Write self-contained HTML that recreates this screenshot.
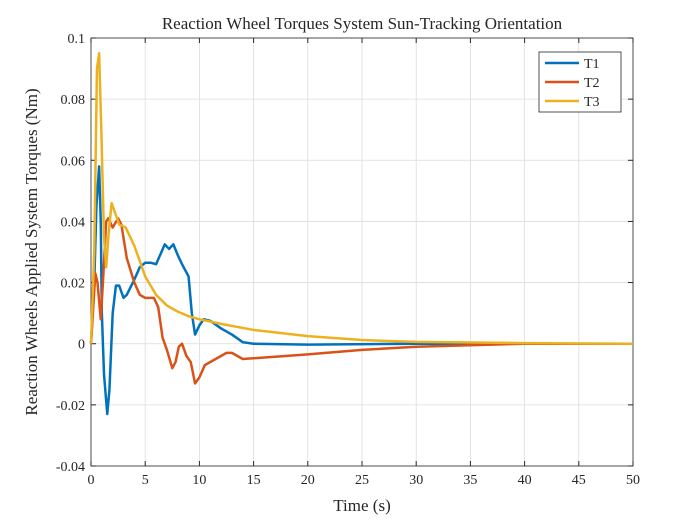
<!DOCTYPE html>
<html><head><meta charset="utf-8"><style>
body{margin:0;background:#fff}
text{font-family:"Liberation Serif","DejaVu Serif",serif;fill:#262626}
</style></head><body>
<svg id="chart" width="700" height="525">
<rect width="700" height="525" fill="#fff"/>
<text x="362" y="29" text-anchor="middle" font-size="17">Reaction Wheel Torques System Sun-Tracking Orientation</text>
<g id="grid"></g><g id="axes"></g><g id="series"></g>
<text x="362" y="511" text-anchor="middle" font-size="17">Time (s)</text>
<text transform="translate(37,252) rotate(-90)" text-anchor="middle" font-size="17">Reaction Wheels Applied System Torques (Nm)</text>
<g>
<rect x="539" y="52" width="82" height="60" fill="#fff" stroke="#262626" stroke-width="0.8"/>
<line x1="545" y1="63" x2="579" y2="63" stroke="#0072BD" stroke-width="2.5"/><text x="584" y="68" font-size="14">T1</text>
<line x1="545" y1="82" x2="579" y2="82" stroke="#D95319" stroke-width="2.5"/><text x="584" y="87" font-size="14">T2</text>
<line x1="545" y1="101" x2="579" y2="101" stroke="#EDB120" stroke-width="2.5"/><text x="584" y="106" font-size="14">T3</text>
</g>
</svg>
<script>
const xTicks=[0,5,10,15,20,25,30,35,40,45,50];
const yTicks=[-0.04,-0.02,0,0.02,0.04,0.06,0.08,0.1];
const yTickLabels=["-0.04","-0.02","0","0.02","0.04","0.06","0.08","0.1"];
const t1Time=[0,0.3,0.5,0.75,0.9,1.0,1.2,1.5,1.7,2.0,2.3,2.6,3.0,3.3,4,4.5,5,5.5,6,6.5,6.8,7.2,7.6,8,8.4,9,9.3,9.6,10,10.4,11,12,13,14,15,20,30,50];
const t1Vals=[0,0.02,0.045,0.058,0.04,0.01,-0.01,-0.023,-0.015,0.01,0.019,0.019,0.015,0.016,0.021,0.025,0.0265,0.0265,0.026,0.03,0.0325,0.031,0.0325,0.029,0.026,0.022,0.01,0.003,0.006,0.008,0.0075,0.005,0.003,0.0005,0,-0.0003,0,0];
const t2Time=[0,0.4,0.6,0.9,1.1,1.4,1.6,2.0,2.5,2.8,3.3,4,4.5,5,5.8,6.2,6.6,7,7.5,7.8,8.1,8.4,8.8,9.2,9.6,10,10.5,11.5,12.5,13,14,20,25,30,40,50];
const t2Vals=[0,0.023,0.02,0.008,0.02,0.04,0.041,0.038,0.041,0.039,0.028,0.02,0.016,0.015,0.015,0.012,0.002,-0.002,-0.008,-0.006,-0.001,0,-0.004,-0.006,-0.013,-0.011,-0.007,-0.005,-0.003,-0.003,-0.005,-0.0035,-0.002,-0.001,0,0];
const t3Time=[0,0.3,0.55,0.75,0.95,1.2,1.4,1.6,1.9,2.2,2.6,3.2,4,5,6,7,8,9,10,12,15,20,25,30,40,50];
const t3Vals=[0,0.03,0.09,0.095,0.07,0.035,0.025,0.035,0.046,0.043,0.039,0.038,0.032,0.022,0.016,0.0125,0.0105,0.009,0.008,0.0065,0.0045,0.0025,0.0012,0.0006,0.0002,0];
const X0=91,X1=633,Y0=466,Y1=38;
const xs=v=>X0+(v-0)/50*(X1-X0);
const ys=v=>Y0-(v+0.04)/0.14*(Y0-Y1);
const NS="http://www.w3.org/2000/svg";
function mk(tag,attrs,parent){const e=document.createElementNS(NS,tag);for(const k in attrs)e.setAttribute(k,attrs[k]);document.getElementById(parent).appendChild(e);return e;}
xTicks.forEach(v=>{
 const g=mk('line',{x1:xs(v),x2:xs(v),y1:Y1,y2:Y0,stroke:'#dcdcdc','stroke-width':0.8},'grid');
 
 
 mk('line',{x1:xs(v),x2:xs(v),y1:Y0,y2:Y0-5,stroke:'#262626'},'axes');
 mk('line',{x1:xs(v),x2:xs(v),y1:Y1,y2:Y1+5,stroke:'#262626'},'axes');
 const t=mk('text',{x:xs(v),y:Y0+18,'text-anchor':'middle','font-size':14},'axes');t.textContent=v;
 
 
});
yTicks.forEach((v,i)=>{
 const g=mk('line',{x1:X0,x2:X1,y1:ys(v),y2:ys(v),stroke:'#dcdcdc','stroke-width':0.8},'grid');
 
 
 mk('line',{x1:X0,x2:X0+5,y1:ys(v),y2:ys(v),stroke:'#262626'},'axes');
 mk('line',{x1:X1,x2:X1-5,y1:ys(v),y2:ys(v),stroke:'#262626'},'axes');
 const t=mk('text',{x:X0-6,y:ys(v)+5,'text-anchor':'end','font-size':14},'axes');t.textContent=yTickLabels[i];
 
 
});
const box=mk('rect',{x:X0,y:Y1,width:X1-X0,height:Y0-Y1,fill:'none',stroke:'#262626','stroke-width':0.8},'axes');


[[t1Time,t1Vals,'#0072BD','t1-line'],[t2Time,t2Vals,'#D95319','t2-line'],[t3Time,t3Vals,'#EDB120','t3-line']].forEach(([tt,vv,c,n])=>{
 const p=mk('polyline',{points:tt.map((t,i)=>xs(t)+','+ys(vv[i])).join(' '),fill:'none',stroke:c,'stroke-width':2.5,'stroke-linejoin':'round'},'series');
 
 
});
</script>
</body></html>
